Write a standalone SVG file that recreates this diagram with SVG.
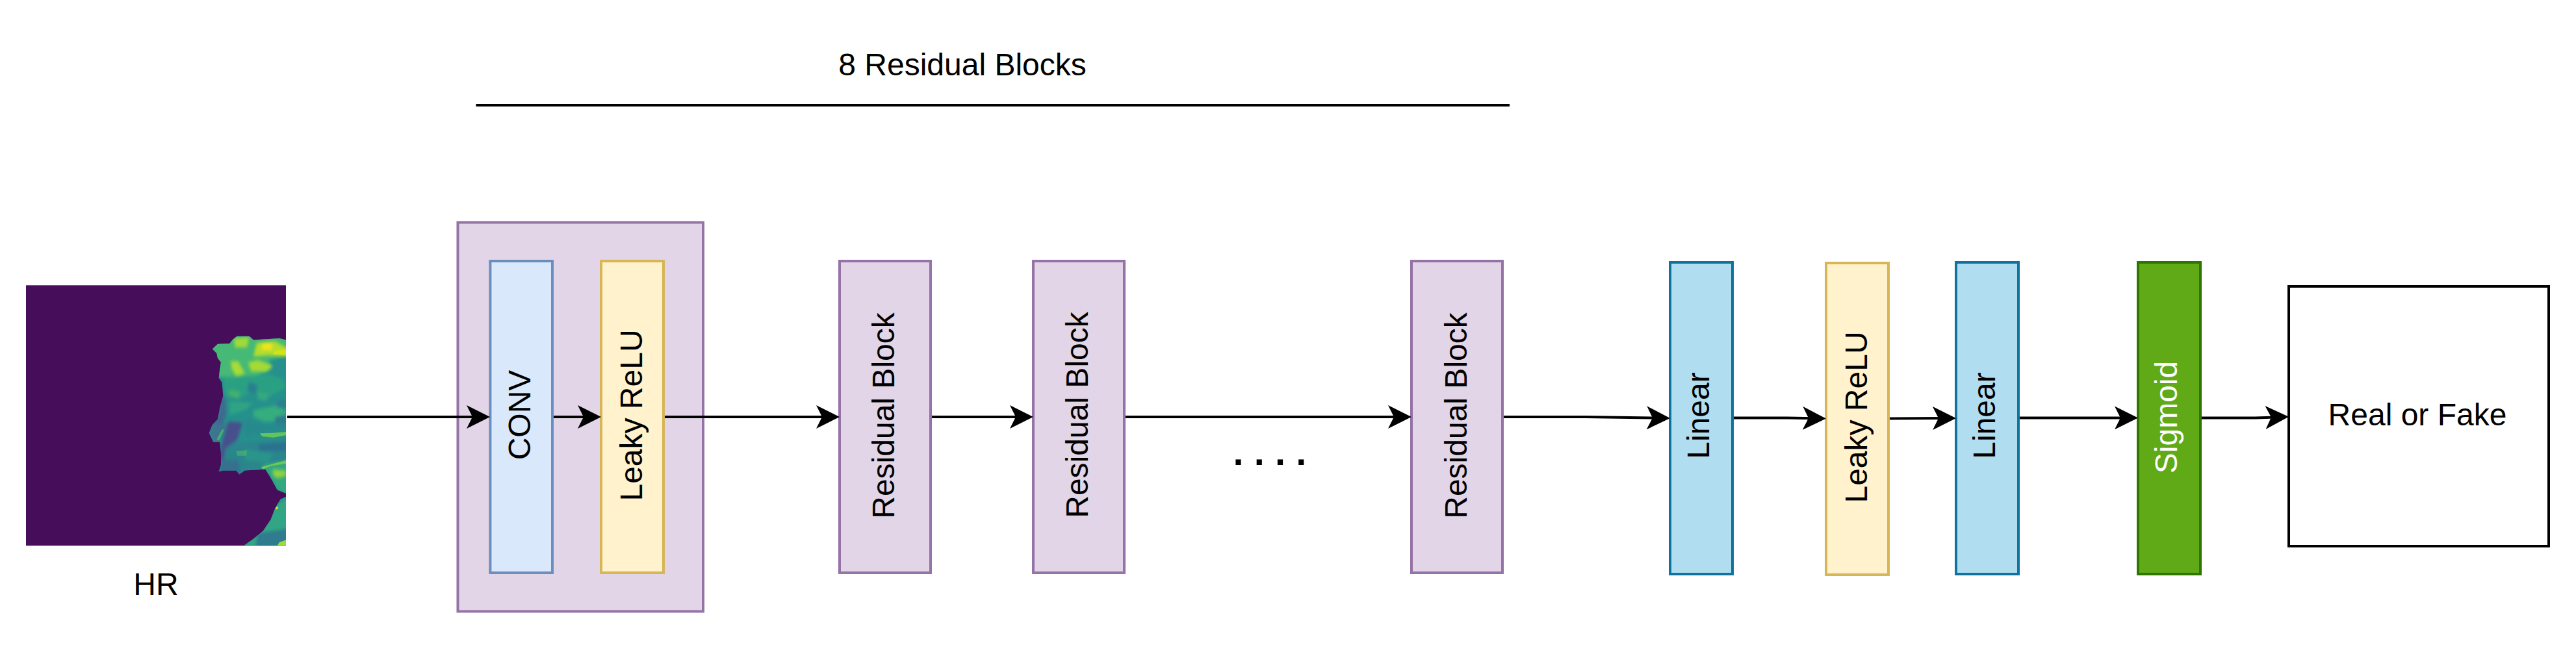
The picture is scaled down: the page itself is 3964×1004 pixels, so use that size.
<svg xmlns="http://www.w3.org/2000/svg" width="3964" height="1004" viewBox="0 0 3964 1004">
<style>
text{font-family:"Liberation Sans",Arial,sans-serif;font-size:48px;fill:#000;text-anchor:middle}
.box{stroke-width:4}
.purple{fill:#e1d5e7;stroke:#9673a6}
.blue{fill:#dae8fc;stroke:#6c8ebf}
.yellow{fill:#fff2cc;stroke:#d6b656}
.cyan{fill:#b1ddf0;stroke:#10739e}
.green{fill:#60a917;stroke:#2d7600}
.plain{fill:#fff;stroke:#000}
.wire{fill:none;stroke:#000;stroke-width:4;marker-end:url(#arrow)}
</style>
<defs>
<marker id="arrow" markerUnits="userSpaceOnUse" viewBox="0 0 36 36" markerWidth="36" markerHeight="36" refX="16" refY="18" orient="auto"><path d="M0 0L36 18L0 36L9 18Z" fill="#000"/></marker>
<clipPath id="head"><path d="M1320 352L1290 345L1170 352L1150 335L1095 335L1075 350L1060 368L1005 370L980 392L1000 410L1005 432L1020 450L1015 480L1010 518L1025 540L1030 598L1015 650L1005 700L980 725L965 760L985 800L1015 800L1020 850L1020 900L1010 930L1030 925L1090 925L1105 942L1130 925L1225 920L1245 950L1260 975L1280 1010L1320 1025ZM1320 1040L1295 1050L1270 1090L1250 1140L1215 1190L1170 1225L1125 1255L1320 1255Z"/></clipPath>
<filter id="soft" x="-10%" y="-10%" width="120%" height="120%"><feGaussianBlur stdDeviation="7"/></filter>
</defs>
<g id="hr-image">
<g transform="translate(0 400) scale(.33333 .35088)">
<rect x="120" y="112" width="1200" height="1143" fill="#460d5b"/>
<g clip-path="url(#head)">
<rect x="960" y="330" width="360" height="930" fill="#26908c"/>
<g filter="url(#soft)">
<path d="M970 330H1330V430L1250 480L1170 515H1000Z" fill="#44b974"/>
<path d="M1030 520L1130 510L1300 500L1320 560L1210 620L1170 570L1110 610L1040 600Z" fill="#2ba083"/>
<path d="M1150 535L1190 550L1180 590L1140 575Z" fill="#2b7f8e"/>
<path d="M1060 570L1110 580L1100 610L1060 600Z" fill="#45b06e"/>
<path d="M1190 580L1240 590L1230 620L1190 610Z" fill="#36a880"/>
<path d="M1240 440L1330 420V530L1260 510Z" fill="#26908c"/>
<path d="M1060 620L1170 630L1130 660L1060 680Z" fill="#2fa484"/>
<path d="M1170 660L1270 640L1320 660V710L1220 710L1170 690Z" fill="#35ad7e"/>
<path d="M1280 620L1330 610V650L1280 650Z" fill="#2b7f8e"/>
<path d="M1270 690L1330 680V730L1270 730Z" fill="#2d7a8e"/>
<path d="M1125 700L1220 720L1320 720V750L1200 760L1130 780Z" fill="#278a8d"/>
<path d="M1030 800L1120 800L1330 790V900L1220 910L1100 935L1020 925Z" fill="#29858d"/>
<path d="M1190 810L1330 800V840L1200 840Z" fill="#2b728e"/>
<path d="M1130 830L1260 850L1240 890L1130 880Z" fill="#2a948a"/>
<path d="M1210 900L1330 880V1030L1280 1010L1245 950Z" fill="#33a980"/>
<path d="M1125 1260L1250 1130L1270 1080L1330 1040V1260Z" fill="#30a684"/>
<path d="M1190 1200L1330 1180V1260L1180 1260Z" fill="#2d7c8e"/>
<path d="M1015 610L1040 600L1045 680L1020 740L965 770L985 710L1010 680Z" fill="#3d6a90"/>
<path d="M970 720L1050 720L1010 800L975 795Z" fill="#3d7490"/>
<path d="M1055 710L1120 715L1095 790L1040 830L1030 900L1015 860L1025 800Z" fill="#46508c"/>
<path d="M1030 880L1100 880L1110 945L1010 930Z" fill="#34708e"/>
</g>
<path d="M1000 790L1025 745L1035 745L1012 790Z" fill="#45b46f"/>
<path d="M1090 840L1140 835L1138 860L1095 860Z" fill="#55b76b" fill-opacity=".6"/>
<path d="M1200 762L1260 760L1320 755V770L1260 780L1210 775Z" fill="#64c45c"/>
<path d="M1205 910L1320 880V895L1250 905L1215 920Z" fill="#6ec758"/>
<g filter="url(#soft)">
<path d="M1260 920L1320 925V950L1280 960L1260 945Z" fill="#8ed245"/>
<path d="M1185 365L1270 358L1330 390V425L1240 420L1170 425Z" fill="#b5dd2b"/>
<path d="M1210 365H1255V395H1210Z" fill="#f0e51c"/>
<path d="M1145 450L1190 440L1260 465L1230 490L1160 490Z" fill="#a5da36"/>
<path d="M1065 445L1100 445L1130 500L1090 510L1070 480Z" fill="#a8db34"/>
<path d="M1080 345L1150 340L1140 385L1085 385Z" fill="#a0da39"/>
</g>
<path d="M1270 398L1320 395V418L1260 415Z" fill="#d2e21b"/>
<path d="M1275 1085L1285 1085L1280 1095L1272 1095Z" fill="#e8e419"/>
<path d="M1290 1240L1320 1230V1255L1280 1255Z" fill="#a0da39"/>
</g>
</g>
<text x="240" y="916">HR</text>
</g>
<g id="title"><text x="1481" y="116">8 Residual Blocks</text></g>
<g id="span-line"><path d="M732.5 162H2323" fill="none" stroke="#000" stroke-width="4"/></g>
<g id="block-group"><rect class="box purple" x="704.5" y="342.5" width="377.5" height="599"/></g>
<g id="conv"><rect class="box blue" x="754.4" y="402" width="95.6" height="480"/><text transform="translate(816 639) rotate(-90)">CONV</text></g>
<g id="leaky-relu-1"><rect class="box yellow" x="925" y="402" width="96" height="480"/><text transform="translate(987.5 639.5) rotate(-90)">Leaky ReLU</text></g>
<g id="residual-block-1"><rect class="box purple" x="1292" y="402" width="140" height="480"/><text transform="translate(1376 640) rotate(-90)">Residual Block</text></g>
<g id="residual-block-2"><rect class="box purple" x="1590" y="402" width="140" height="480"/><text transform="translate(1674 639) rotate(-90)">Residual Block</text></g>
<g id="ellipsis"><text x="1954" y="716" style="font-size:58px;font-weight:bold">. . . .</text></g>
<g id="residual-block-3"><rect class="box purple" x="2172" y="402" width="140" height="480"/><text transform="translate(2256.5 640) rotate(-90)">Residual Block</text></g>
<g id="linear-1"><rect class="box cyan" x="2570" y="404" width="96" height="480"/><text transform="translate(2630 640) rotate(-90)">Linear</text></g>
<g id="leaky-relu-2"><rect class="box yellow" x="2810" y="405" width="96" height="480"/><text transform="translate(2873 642.5) rotate(-90)">Leaky ReLU</text></g>
<g id="linear-2"><rect class="box cyan" x="3010" y="404" width="96" height="480"/><text transform="translate(3069.5 640) rotate(-90)">Linear</text></g>
<g id="sigmoid"><rect class="box green" x="3290" y="404" width="96" height="480"/><text transform="translate(3350 642.5) rotate(-90)" style="fill:#fff">Sigmoid</text></g>
<g id="real-or-fake"><rect class="box plain" x="3522" y="441" width="400" height="400"/><text x="3720" y="655">Real or Fake</text></g>
<g id="connectors">
<path class="wire" d="M442 642H734"/>
<path class="wire" d="M852 642H905"/>
<path class="wire" d="M1023 642H1272"/>
<path class="wire" d="M1434 642H1570"/>
<path class="wire" d="M1732 642H2152"/>
<path class="wire" d="M2314 642H2440L2550 643.6"/>
<path class="wire" d="M2668 643.4H2750L2790 644.2"/>
<path class="wire" d="M2908 644.4L2990 644"/>
<path class="wire" d="M3108 643.4H3270"/>
<path class="wire" d="M3388 643.4H3470L3502 642.4"/>
</g>
</svg>
